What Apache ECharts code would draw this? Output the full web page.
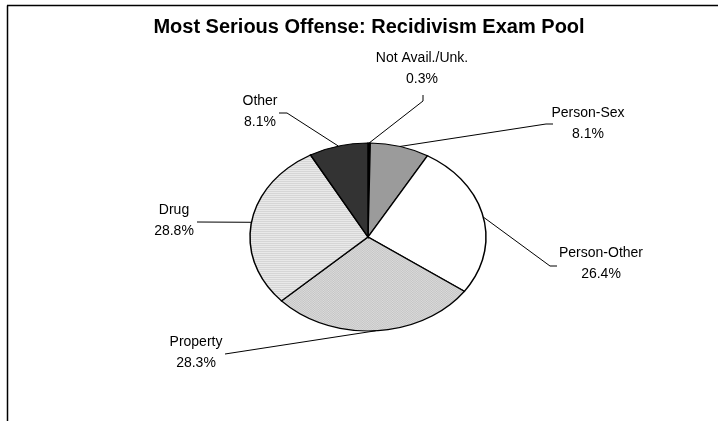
<!DOCTYPE html>
<html>
<head>
<meta charset="utf-8">
<script src="https://cdn.jsdelivr.net/npm/echarts@6/dist/echarts.min.js"></script>
<style>
  html, body { margin: 0; padding: 0; background: #fff; }
  #chart { width: 718px; height: 421px; }
</style>
</head>
<body>
<div id="chart"></div>
<script>
// ---- data ----
const chartTitle = 'Most Serious Offense: Recidivism Exam Pool';
const categories = ['Not Avail./Unk.', 'Person-Sex', 'Person-Other', 'Property', 'Drug', 'Other'];
const shares = [0.3, 8.1, 26.4, 28.3, 28.8, 8.1];

// ---- layout ----
const CX = 368, CY = 237, RX = 118, RY = 94;
const FONT = '"Liberation Sans", Arial, Helvetica, sans-serif';
// label block centre and the extra leader-line points on the label side
const labelLayout = [
  { x: 422, y: 69, via: [[423, 101], [423, 95]] },
  { x: 588, y: 124, via: [[546, 124], [553, 124]] },
  { x: 601, y: 264, via: [[550, 266], [557, 266]] },
  { x: 196, y: 353, via: [[225, 354]] },
  { x: 174, y: 221, via: [[197, 222]] },
  { x: 260, y: 112, via: [[287, 113], [279, 113]] }
];

function stripes(base, line, w, h) {
  const cv = document.createElement('canvas');
  cv.width = w; cv.height = h;
  const g = cv.getContext('2d');
  g.fillStyle = base; g.fillRect(0, 0, w, h);
  g.fillStyle = line; g.fillRect(0, 0, w, 1);
  return { image: cv, repeat: 'repeat' };
}
function dots(base, dot) {
  const cv = document.createElement('canvas');
  cv.width = 2; cv.height = 2;
  const g = cv.getContext('2d');
  g.fillStyle = base; g.fillRect(0, 0, 2, 2);
  g.fillStyle = dot; g.fillRect(0, 0, 1, 1); g.fillRect(1, 1, 1, 1);
  return { image: cv, repeat: 'repeat' };
}
const sliceFills = [
  '#000000',
  '#9b9b9b',
  '#ffffff',
  dots('#dcdcdc', '#c4c4c4'),
  stripes('#e9e9e9', '#d6d6d6', 4, 2),
  '#333333'
];

const total = shares.reduce((a, b) => a + b, 0);
const cumStart = [];
shares.reduce((acc, v) => { cumStart.push(acc); return acc + v; }, 0);

function renderSlice(params, api) {
  const i = params.dataIndex;
  const v = api.value(1);
  const a0 = -Math.PI / 2 + (cumStart[i] / total) * Math.PI * 2;
  const a1 = a0 + (v / total) * Math.PI * 2;
  const mid = (a0 + a1) / 2;
  const edge = [CX + RX * Math.cos(mid), CY + RY * Math.sin(mid)];
  const lay = labelLayout[i];
  return {
    type: 'group',
    children: [
      {
        type: 'sector',
        x: CX, y: CY,
        scaleX: RX / RY, scaleY: 1,
        shape: { cx: 0, cy: 0, r0: 0, r: RY, startAngle: a0, endAngle: a1, clockwise: true },
        style: { fill: sliceFills[i], stroke: '#000', lineWidth: 1.2, strokeNoScale: true }
      },
      {
        type: 'polyline',
        shape: { points: [edge].concat(lay.via) },
        style: { fill: null, stroke: '#000', lineWidth: 1 },
        z2: 5
      },
      {
        type: 'text',
        x: lay.x, y: lay.y,
        style: {
          text: categories[i] + '\n' + v.toFixed(1) + '%',
          font: '14px ' + FONT,
          fill: '#000',
          align: 'center',
          verticalAlign: 'middle',
          lineHeight: 21
        },
        z2: 6
      }
    ]
  };
}

const chart = echarts.init(document.getElementById('chart'), null, { renderer: 'canvas' });
chart.setOption({
  backgroundColor: '#ffffff',
  animation: false,
  graphic: [
    { type: 'line', shape: { x1: 7.5, y1: 421, x2: 7.5, y2: 5.5 }, style: { stroke: '#000', lineWidth: 1.5 } },
    { type: 'line', shape: { x1: 7, y1: 5.5, x2: 718, y2: 5.5 }, style: { stroke: '#000', lineWidth: 1.5 } },
    {
      type: 'text', x: 369, y: 27,
      style: {
        text: chartTitle,
        font: 'bold 20px ' + FONT,
        fill: '#000',
        align: 'center',
        verticalAlign: 'middle'
      }
    }
  ],
  series: [{
    type: 'custom',
    coordinateSystem: 'none',
    renderItem: renderSlice,
    data: shares.map((v, i) => [i, v]),
    silent: true
  }]
});
</script>
</body>
</html>
